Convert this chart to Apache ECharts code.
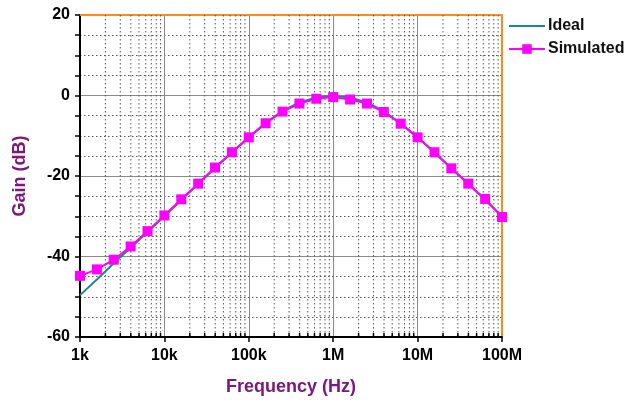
<!DOCTYPE html>
<html>
<head>
<meta charset="utf-8">
<script src="https://cdn.jsdelivr.net/npm/echarts@6/dist/echarts.min.js"></script>
<style>html,body{margin:0;padding:0;background:#fff}#c{width:625px;height:403px}</style>
</head>
<body>
<div id="c"></div>
<script>
var freqs = [1000, 1585, 2512, 3981, 6310, 10000, 15850, 25120, 39810, 63100,
  100000, 158500, 251200, 398100, 631000, 1000000, 1585000, 2512000, 3981000, 6310000,
  10000000, 15850000, 25120000, 39810000, 63100000, 100000000];
var simulated = [-44.8, -43.2, -40.8, -37.5, -33.7, -29.8, -25.8, -21.9, -17.9, -14.1,
  -10.4, -6.9, -4.0, -2.0, -0.8, -0.4, -1.0, -2.0, -4.1, -7.0,
  -10.4, -14.1, -18.1, -21.9, -25.7, -30.2];
var ideal = [-49.6, -45.7, -41.7, -37.8, -33.9, -30.0, -26.0, -22.0, -18.0, -14.2,
  -10.4, -6.8, -3.8, -1.7, -0.5, -0.1, -0.5, -1.7, -3.9, -6.9,
  -10.4, -14.2, -18.1, -22.0, -26.0, -30.0];
var xTickLabels = ['1k', '10k', '100k', '1M', '10M', '100M'];
var minorFreqs = [];
[1e3, 1e4, 1e5, 1e6, 1e7].forEach(function (d) {
  [2, 3, 4, 5, 6, 7, 8, 9].forEach(function (m) { minorFreqs.push(d * m); });
});

var chart = echarts.init(document.getElementById('c'), null, {renderer: 'canvas'});
var bold = {fontFamily: 'Liberation Sans, Arial, sans-serif', fontWeight: 'bold'};
var orange = '#ff8c1a';
chart.setOption({
  animation: false,
  backgroundColor: '#fff',
  grid: {left: 80, right: 123, top: 15, bottom: 66, show: false,
    containLabel: false, outerBoundsMode: 'none'},
  legend: {
    data: [{name: 'Ideal', itemStyle: {opacity: 0}}, {name: 'Simulated'}],
    orient: 'vertical', left: 508, top: 18, padding: 0,
    itemWidth: 36, itemHeight: 12, itemGap: 7,
    textStyle: Object.assign({fontSize: 16, color: '#111', padding: [0, 0, 0, -2]}, bold)
  },
  xAxis: [{
    type: 'log', logBase: 10, min: 1000, max: 100000000, splitNumber: 5,
    name: 'Frequency (Hz)', nameLocation: 'middle', nameGap: 41,
    nameTextStyle: Object.assign({fontSize: 18, color: '#7d1780'}, bold),
    axisLine: {show: true, onZero: false, lineStyle: {color: '#000', width: 2}},
    axisTick: {show: true, length: 5, lineStyle: {color: '#000', width: 1.5}},
    axisLabel: Object.assign({fontSize: 16, color: '#000', margin: 11,
      formatter: function (v) { return xTickLabels[Math.round(Math.log10(v)) - 3]; }}, bold),
    splitLine: {show: true, lineStyle: {color: '#8a8a8a', width: 1}}
  }, {
    type: 'log', logBase: 10, min: 1000, max: 100000000, position: 'top',
    axisLine: {show: true, onZero: false, lineStyle: {color: orange, width: 2}},
    axisTick: {show: false}, axisLabel: {show: false}, splitLine: {show: false}
  }],
  yAxis: [{
    type: 'value', min: -60, max: 20, interval: 20,
    name: 'Gain (dB)', nameLocation: 'middle', nameGap: 51,
    nameTextStyle: Object.assign({fontSize: 18, color: '#7d1780'}, bold),
    axisLine: {show: true, lineStyle: {color: '#000', width: 2}},
    axisTick: {show: true, length: 5, lineStyle: {color: '#000', width: 1.5}},
    minorTick: {show: true, splitNumber: 4, length: 5, lineStyle: {color: '#000', width: 1.5}},
    minorSplitLine: {show: true, lineStyle: {color: '#555', width: 1, type: [1.5, 2.5]}},
    axisLabel: Object.assign({fontSize: 16, color: '#000', margin: 10}, bold),
    splitLine: {show: true, lineStyle: {color: '#8a8a8a', width: 1}}
  }, {
    type: 'value', min: -60, max: 20, interval: 20, position: 'right',
    axisLine: {show: true, onZero: false, lineStyle: {color: orange, width: 2}},
    axisTick: {show: false}, axisLabel: {show: false}, splitLine: {show: false}
  }],
  series: [
    {
      type: 'custom', name: 'minorgrid', z: 1, silent: true,
      data: minorFreqs.map(function (f) { return [f]; }),
      renderItem: function (params, api) {
        var x = api.coord([api.value(0), 0])[0];
        var top = api.coord([api.value(0), 20])[1];
        var bot = api.coord([api.value(0), -60])[1];
        return {type: 'group', children: [
          {type: 'line', shape: {x1: x, y1: top, x2: x, y2: bot},
            style: {stroke: '#555', lineWidth: 1, lineDash: [1.5, 2.5]}},
          {type: 'line', shape: {x1: x, y1: bot, x2: x, y2: bot - 4},
            style: {stroke: '#000', lineWidth: 1.5}}
        ]};
      }
    },
    {
      name: 'Ideal', type: 'line', z: 3, symbol: 'none', showSymbol: false,
      data: freqs.map(function (f, i) { return [f, ideal[i]]; }),
      lineStyle: {color: '#178a8a', width: 2}, itemStyle: {color: '#178a8a'}
    },
    {
      name: 'Simulated', type: 'line', z: 4, symbol: 'rect', symbolSize: 10,
      data: freqs.map(function (f, i) { return [f, simulated[i]]; }),
      lineStyle: {color: '#ff00ff', width: 2}, itemStyle: {color: '#ff00ff'}
    }
  ]
});
</script>
</body>
</html>
